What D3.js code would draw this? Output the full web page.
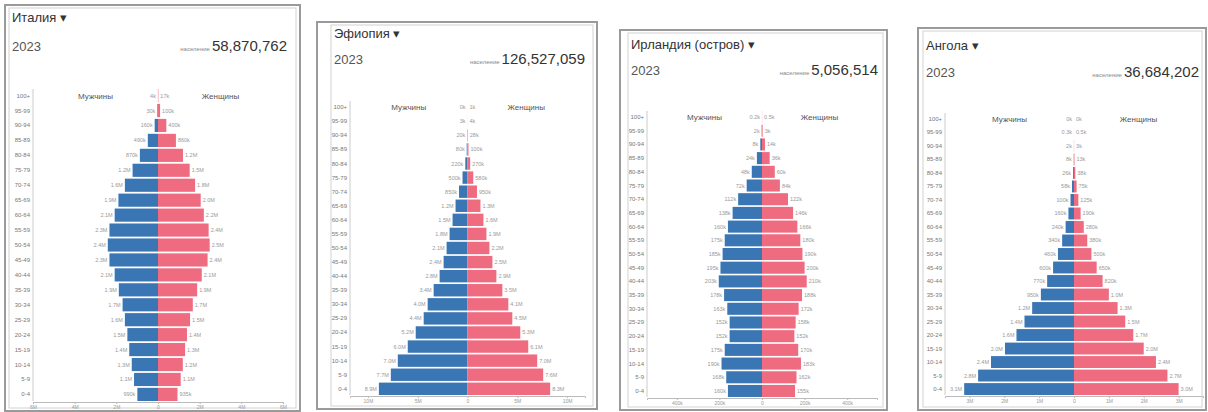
<!DOCTYPE html>
<html>
<head>
<meta charset="utf-8">
<script src="https://cdnjs.cloudflare.com/ajax/libs/d3/7.8.5/d3.min.js"></script>
<style>
  body { margin: 0; background: #fff; }
  svg { font-family: "Liberation Sans", Arial, sans-serif; display: block; }
</style>
</head>
<body>
<div id="chart"></div>
<script>
// Data (population, thousands), age groups from 0-4 up to 100+
const ageGroups = ['0-4','5-9','10-14','15-19','20-24','25-29','30-34','35-39','40-44','45-49',
  '50-54','55-59','60-64','65-69','70-74','75-79','80-84','85-89','90-94','95-99','100+']
const countries = ['Италия', 'Эфиопия', 'Ирландия (остров)', 'Ангола']
const years = ['2023', '2023', '2023', '2023']
const totals = ['58,870,762', '126,527,059', '5,056,514', '36,684,202']
const maleLabel = 'Мужчины'
const femaleLabel = 'Женщины'
const totalLabel = 'население'

const italyMale = [990, 1150, 1260, 1380, 1470, 1590, 1700, 1880, 2080, 2330, 2410, 2330, 2080, 1900, 1590, 1220, 870, 490, 160, 30, 4]
const italyFemale = [935, 1090, 1190, 1300, 1390, 1540, 1670, 1880, 2100, 2380, 2480, 2430, 2200, 2050, 1780, 1520, 1200, 860, 400, 100, 17]
const ethiopiaMale = [8900, 7700, 7000, 6000, 5200, 4400, 4000, 3400, 2800, 2400, 2100, 1800, 1500, 1200, 850, 500, 220, 80, 20, 3, 0]
const ethiopiaFemale = [8300, 7600, 7000, 6100, 5300, 4500, 4100, 3500, 2900, 2500, 2200, 1900, 1600, 1300, 950, 580, 270, 100, 28, 4, 1]
const irelandMale = [160, 168, 190, 175, 152, 152, 163, 178, 203, 195, 185, 175, 160, 138, 112, 72, 48, 24, 8, 1.5, 0.2]
const irelandFemale = [155, 162, 183, 170, 152, 158, 172, 188, 210, 200, 190, 180, 166, 146, 122, 84, 60, 36, 14, 3, 0.5]
const angolaMale = [3150, 2750, 2380, 1980, 1650, 1420, 1200, 950, 770, 600, 460, 340, 240, 160, 100, 58, 26, 8, 2, 0.3, 0]
const angolaFemale = [3000, 2680, 2350, 2000, 1700, 1470, 1250, 1000, 820, 650, 500, 380, 280, 190, 125, 75, 38, 13, 3, 0.5, 0]
// x axis extent of every panel (thousands)
const axisMax = [6000, 11800, 540, 3700]

// Helpers
const fmt = v => v >= 1000 ? (v / 1000).toFixed(1) + 'M' : (v >= 1 ? Math.round(v) + 'k' : v + 'k')
const axisFmt = v => v === 0 ? '0' : (v >= 1000 ? d3.format('~')(v / 1000) + 'M' : v + 'k')

;(({ selectorForRoot, d3, width, height, panels, colors }) => {
  const svg = d3.select(selectorForRoot)
    .append('svg')
    .attr('width', width)
    .attr('height', height)

  panels.forEach(p => {
    const g = svg.append('g')
    const [x0, y0, x1, y1] = p.frame
    // Frame
    g.append('rect')
      .attr('x', x0).attr('y', y0)
      .attr('width', x1 - x0).attr('height', y1 - y0)
      .attr('fill', '#fff')
      .attr('stroke', '#9a9a9a')
      .attr('stroke-width', 2)
    g.append('rect')
      .attr('x', x0 + p.inset).attr('y', y0 + 3)
      .attr('width', x1 - x0 - p.inset - 4).attr('height', y1 - y0 - 6)
      .attr('fill', 'none')
      .attr('stroke', '#d2d2d2')
      .attr('stroke-width', 1)
    const tx = x0 + p.inset + 3
    // Title
    g.append('text')
      .attr('x', tx).attr('y', p.titleY)
      .attr('font-size', 13)
      .attr('fill', '#333')
      .text(p.name + ' ▾')
    g.append('text')
      .attr('x', tx).attr('y', p.yearY)
      .attr('font-size', 13)
      .attr('fill', '#555')
      .text(p.year)
    const total = g.append('text')
      .attr('x', x1 - p.totalGap).attr('y', p.yearY)
      .attr('text-anchor', 'end')
      .attr('font-size', 15)
      .attr('fill', '#333')
      .text(p.total)
    const tw = total.node().getComputedTextLength()
    g.append('text')
      .attr('x', x1 - p.totalGap - 2 - tw).attr('y', p.yearY)
      .attr('text-anchor', 'end')
      .attr('font-size', 6)
      .attr('fill', '#888')
      .text(totalLabel)

    // Scales
    const x = d3.scaleLinear()
      .domain([-p.axisMax, p.axisMax])
      .range(p.xRange)
    const y = d3.scaleBand()
      .domain(ageGroups)
      .range([p.bands[1], p.bands[0]])
      .paddingInner(0.12)
    const cx = x(0)
    const rows = ageGroups.map((a, i) => ({ age: a, m: p.male[i], f: p.female[i] }))

    // Age axis
    g.append('line')
      .attr('x1', p.xRange[0]).attr('x2', p.xRange[0])
      .attr('y1', p.bands[0]).attr('y2', p.bands[1])
      .attr('stroke', '#ccc')
    g.selectAll('.age')
      .data(rows)
      .enter()
      .append('text')
      .attr('x', p.xRange[0] - 3)
      .attr('y', d => y(d.age) + y.bandwidth() / 2 + 2)
      .attr('text-anchor', 'end')
      .attr('font-size', 6)
      .attr('fill', '#777')
      .text(d => d.age)

    // Headers
    const quarter = (p.xRange[1] - p.xRange[0]) / 4
    const headY = y('100+') + y.bandwidth() / 2 + 3
    g.append('text')
      .attr('x', cx - quarter).attr('y', headY)
      .attr('text-anchor', 'middle')
      .attr('font-size', 8).attr('fill', '#555')
      .text(maleLabel)
    g.append('text')
      .attr('x', cx + quarter).attr('y', headY)
      .attr('text-anchor', 'middle')
      .attr('font-size', 8).attr('fill', '#555')
      .text(femaleLabel)

    // Bars
    g.selectAll('.male')
      .data(rows)
      .enter()
      .append('rect')
      .attr('x', d => x(-d.m))
      .attr('y', d => y(d.age))
      .attr('width', d => cx - x(-d.m))
      .attr('height', y.bandwidth())
      .attr('fill', colors.male)
    g.selectAll('.female')
      .data(rows)
      .enter()
      .append('rect')
      .attr('x', cx)
      .attr('y', d => y(d.age))
      .attr('width', d => x(d.f) - cx)
      .attr('height', y.bandwidth())
      .attr('fill', colors.female)

    // Value labels
    g.selectAll('.mlab')
      .data(rows)
      .enter()
      .append('text')
      .attr('x', d => x(-d.m) - 2)
      .attr('y', d => y(d.age) + y.bandwidth() / 2 + 2)
      .attr('text-anchor', 'end')
      .attr('font-size', 5.5)
      .attr('fill', '#999')
      .text(d => fmt(d.m))
    g.selectAll('.flab')
      .data(rows)
      .enter()
      .append('text')
      .attr('x', d => x(d.f) + 2)
      .attr('y', d => y(d.age) + y.bandwidth() / 2 + 2)
      .attr('font-size', 5.5)
      .attr('fill', '#999')
      .text(d => fmt(d.f))

    // Bottom axis
    const axis = g.append('g')
      .attr('transform', `translate(0,${p.bands[1] + 1})`)
      .call(d3.axisBottom(x).ticks(6).tickSize(2).tickPadding(1).tickFormat(d => axisFmt(Math.abs(d))))
    axis.select('.domain').attr('stroke', '#bbb')
    axis.selectAll('.tick line').attr('stroke', '#bbb')
    axis.selectAll('.tick text')
      .attr('font-size', 5)
      .attr('fill', '#999')
  })
})({
  selectorForRoot: '#chart',
  d3: d3,
  width: 1208,
  height: 412,
  colors: { male: '#3a75b4', female: '#ef6b80' },
  panels: [
    { name: countries[0], year: years[0], total: totals[0], male: italyMale, female: italyFemale, axisMax: axisMax[0],
      frame: [5, 5, 300, 411], inset: 4, titleY: 22, yearY: 51, totalGap: 13, bands: [89, 401], xRange: [33, 283] },
    { name: countries[1], year: years[1], total: totals[1], male: ethiopiaMale, female: ethiopiaFemale, axisMax: axisMax[1],
      frame: [317, 22, 597, 409], inset: 14, titleY: 38, yearY: 64, totalGap: 12, bands: [101, 395], xRange: [350, 585] },
    { name: countries[2], year: years[2], total: totals[2], male: irelandMale, female: irelandFemale, axisMax: axisMax[2],
      frame: [620, 30, 887, 410], inset: 8, titleY: 49, yearY: 75, totalGap: 9, bands: [111, 397], xRange: [647, 877] },
    { name: countries[3], year: years[3], total: totals[3], male: angolaMale, female: angolaFemale, axisMax: axisMax[3],
      frame: [918, 28, 1206, 410], inset: 5, titleY: 50, yearY: 77, totalGap: 7, bands: [113, 395], xRange: [945, 1203] }
  ]
});
</script>
</body>
</html>
